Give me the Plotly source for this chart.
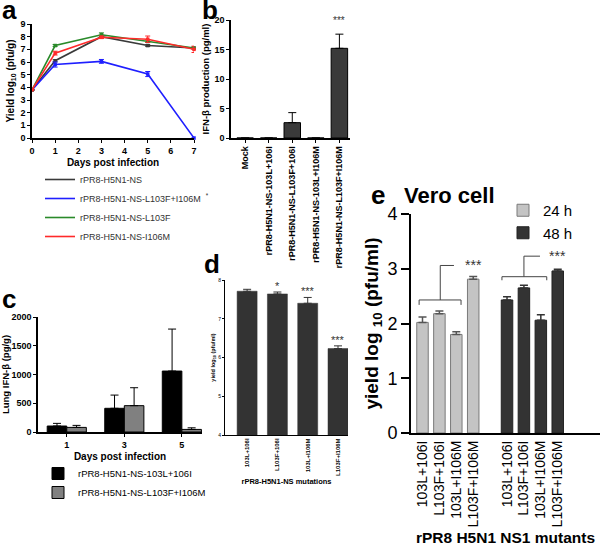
import plotly.graph_objects as go

W, H = 600, 549
def px(x): return x / W
def py(y): return 1 - y / H

FONT = "Liberation Sans, Arial, sans-serif"

# ---------------- Panel a data ----------------
days_a = [0, 1, 3, 5, 7]
a_names = ["rPR8-H5N1-NS", "rPR8-H5N1-NS-L103F+I106M  <sup>*</sup>", "rPR8-H5N1-NS-L103F", "rPR8-H5N1-NS-I106M"]
a_wt = [3.8, 6.1, 8.0, 7.3, 7.1]
a_wt_err = [0, 0.08, 0.1, 0.08, 0.08]
a_dm = [3.8, 5.8, 6.05, 5.05, 0.0]
a_dm_err = [0, 0.2, 0.15, 0.2, 0]
a_l103f = [3.8, 7.3, 8.15, 7.65, 7.1]
a_l103f_err = [0, 0.08, 0.15, 0.1, 0.08]
a_i106m = [3.8, 6.7, 7.95, 7.8, 7.0]
a_i106m_err = [0, 0.15, 0.1, 0.25, 0.25]
a_colors = ["#3a3a3a", "#1f1fff", "#2a8a2a", "#ff2a2a"]

# ---------------- Panel b data ----------------
b_cats = ["Mock", "rPR8-H5N1-NS-103L+106I", "rPR8-H5N1-NS-L103F+106I",
          "rPR8-H5N1-NS-103L+I106M", "rPR8-H5N1-NS-L103F+I106M"]
b_vals = [0, 0, 2.6, 0, 15.2]
b_err = [0, 0, 1.7, 0, 2.4]
b_sig = ["", "", "", "", "***"]

# ---------------- Panel c data ----------------
c_days = [0, 1, 2]
c_day_labels = ["1", "3", "5"]
c_names = ["rPR8-H5N1-NS-103L+106I", "rPR8-H5N1-NS-L103F+I106M"]
c_wt = [104, 412, 1060]
c_wt_err = [46, 230, 730]
c_dm = [80, 458, 45]
c_dm_err = [35, 312, 28]

# ---------------- Panel d data ----------------
d_cats = ["103L+106I", "L103F+106I", "103L+I106M", "L103F+I106M"]
d_vals = [7.71, 7.64, 7.40, 6.23]
d_err = [0.05, 0.05, 0.15, 0.07]
d_sig = ["", "*", "***", "***"]

# ---------------- Panel e data ----------------
e_labels = ["103L+106I", "L103F+106I", "103L+I106M", "L103F+I106M"]
e_pos24 = [0, 1, 2, 3]
e_pos48 = [5, 6, 7, 8]
e_24 = [2.02, 2.18, 1.80, 2.81]
e_24_err = [0.10, 0.05, 0.05, 0.05]
e_48 = [2.43, 2.65, 2.06, 2.96]
e_48_err = [0.06, 0.05, 0.10, 0.03]
# significance brackets: (left, right, base, foot, stem_x, top, top_end, star_x)
e_brackets = [(-0.2, 2.28, 2.43, 2.34, 1.05, 3.06, 1.86, 3.0),
              (4.7, 7.35, 2.855, 2.79, 6.0, 3.23, 6.95, 8.0)]

fig = go.Figure()

# ---- a ----
for name, ys, err, col in zip(a_names, [a_wt, a_dm, a_l103f, a_i106m],
                              [a_wt_err, a_dm_err, a_l103f_err, a_i106m_err], a_colors):
    fig.add_trace(go.Scatter(x=days_a, y=ys, mode="lines+markers", xaxis="x", yaxis="y",
                             line=dict(color=col, width=1.6),
                             marker=dict(symbol="square", size=3.5, color=col),
                             error_y=dict(type="data", array=err, color=col, thickness=1, width=2.5),
                             showlegend=False, cliponaxis=False))
    fig.add_trace(go.Scatter(x=[None], y=[None], mode="lines", name=name, xaxis="x", yaxis="y",
                             line=dict(color=col, width=1.6), legend="legend"))

# ---- b ----
fig.add_trace(go.Bar(x=b_cats, y=b_vals, xaxis="x2", yaxis="y2", width=0.7,
                     marker=dict(color="#3a3a3a", line=dict(color="black", width=1)),
                     error_y=dict(type="data", array=b_err, arrayminus=[0] * 5, symmetric=False,
                                  color="black", thickness=1, width=4),
                     showlegend=False))

# ---- c ----
fig.add_trace(go.Bar(x=c_days, y=c_wt, xaxis="x3", yaxis="y3", width=0.34, offset=-0.34,
                     name=c_names[0], legend="legend2",
                     marker=dict(color="black", line=dict(color="black", width=1)),
                     error_y=dict(type="data", array=c_wt_err, arrayminus=[0] * 3, symmetric=False,
                                  color="black", thickness=1, width=4)))
fig.add_trace(go.Bar(x=c_days, y=c_dm, xaxis="x3", yaxis="y3", width=0.34, offset=0,
                     name=c_names[1], legend="legend2",
                     marker=dict(color="#808080", line=dict(color="black", width=1)),
                     error_y=dict(type="data", array=c_dm_err, arrayminus=[0] * 3, symmetric=False,
                                  color="black", thickness=1, width=4)))

# ---- d ----
fig.add_trace(go.Bar(x=d_cats, y=d_vals, xaxis="x4", yaxis="y4", width=0.66,
                     marker=dict(color="#333333", line=dict(color="#333333", width=0.5)),
                     error_y=dict(type="data", array=d_err, arrayminus=[0] * 4, symmetric=False,
                                  color="#333333", thickness=1, width=4),
                     showlegend=False))

# ---- e ----
fig.add_trace(go.Bar(x=e_pos24, y=e_24, xaxis="x5", yaxis="y5", width=0.68, name="24 h",
                     legend="legend3",
                     marker=dict(color="#c4c4c4", line=dict(color="#7a7a7a", width=1)),
                     error_y=dict(type="data", array=e_24_err, arrayminus=[0] * 4, symmetric=False,
                                  color="#555555", thickness=1.5, width=4)))
fig.add_trace(go.Bar(x=e_pos48, y=e_48, xaxis="x5", yaxis="y5", width=0.68, name="48 h",
                     legend="legend3",
                     marker=dict(color="#333333", line=dict(color="#222222", width=1)),
                     error_y=dict(type="data", array=e_48_err, arrayminus=[0] * 4, symmetric=False,
                                  color="#333333", thickness=1.5, width=4)))

shapes = []
annotations = []
for (l, r, base, foot, sx, top, tend, starx) in e_brackets:
    path = f"M {l},{foot} L {l},{base} L {r},{base} L {r},{foot}"
    shapes.append(dict(type="path", path=path, xref="x5", yref="y5",
                       line=dict(color="#444444", width=1)))
    shapes.append(dict(type="path", path=f"M {sx},{base} L {sx},{top} L {tend},{top}",
                       xref="x5", yref="y5", line=dict(color="#444444", width=1)))
    annotations.append(dict(x=starx, y=top, xref="x5", yref="y5", text="***", showarrow=False,
                            font=dict(family=FONT, size=14, color="#333333"), yanchor="middle"))

# significance stars on b and d
for cat, v, e, s in zip(b_cats, b_vals, b_err, b_sig):
    if s:
        annotations.append(dict(x=cat, y=20, xref="x2", yref="y2", text=s, showarrow=False,
                                font=dict(family=FONT, size=10, color="#333333"), yanchor="middle"))
for cat, v, e, s in zip(d_cats, d_vals, d_err, d_sig):
    if s:
        annotations.append(dict(x=cat, y=v + e, xref="x4", yref="y4", text=s, showarrow=False,
                                font=dict(family=FONT, size=11, color="#333333"), yanchor="bottom",
                                yshift=-2))

# panel letters
for letter, x, y in [("a", 9, 10), ("b", 210, 10), ("c", 9, 299), ("d", 212, 264), ("e", 378, 195)]:
    annotations.append(dict(x=px(x), y=py(y), xref="paper", yref="paper", text=f"<b>{letter}</b>",
                            showarrow=False, font=dict(family=FONT, size=26, color="black"),
                            xanchor="center", yanchor="middle"))

annotations.append(dict(x=px(497), y=py(181), xref="paper", yref="paper", text="<b>Vero cell</b>",
                        showarrow=False, font=dict(family=FONT, size=22, color="black")))

def axstyle(lw=1.5, tl=3, tw=1.2):
    return dict(showline=True, linecolor="black", linewidth=lw, ticks="outside", ticklen=tl,
                tickwidth=tw, tickcolor="black", showgrid=False, zeroline=False, automargin=False)

bold9 = dict(family=FONT, size=9, color="black", weight="bold")

layout = dict(
    width=W, height=H, margin=dict(l=0, r=0, t=0, b=0, autoexpand=False),
    paper_bgcolor="white", plot_bgcolor="white",
    font=dict(family=FONT, color="black"),
    barmode="overlay",
    xaxis=dict(domain=[px(32), px(194)], anchor="y", range=[0, 7], dtick=1, tickfont=bold9,
               title=dict(text="Days post infection", font=dict(family=FONT, size=10, weight="bold"),
                          standoff=4), **axstyle()),
    yaxis=dict(domain=[py(138), py(24)], anchor="x", range=[0, 9], dtick=1, tickfont=bold9,
               title=dict(text="Yield log<sub>10</sub> (pfu/g)", font=dict(family=FONT, size=10, weight="bold"),
                          standoff=4), **axstyle()),
    xaxis2=dict(domain=[px(231), px(350)], anchor="y2", range=[-0.6, 4.45], type="category",
                tickangle=-90, tickfont=dict(family=FONT, size=9, color="black", weight="bold"),
                **axstyle()),
    yaxis2=dict(domain=[py(138), py(20)], anchor="x2", range=[0, 20], dtick=5, tickfont=bold9,
                title=dict(text="IFN-β production (pg/ml)", font=dict(family=FONT, size=9.5, weight="bold"),
                           standoff=3), **axstyle()),
    xaxis3=dict(domain=[px(38), px(202)], anchor="y3", range=[-0.5, 2.35], tickvals=c_days,
                ticktext=c_day_labels, tickfont=bold9,
                title=dict(text="Days post infection", font=dict(family=FONT, size=10, weight="bold"),
                           standoff=4), **axstyle()),
    yaxis3=dict(domain=[py(432), py(317)], anchor="x3", range=[0, 2000], dtick=500, tickfont=bold9,
                title=dict(text="Lung IFN-β (pg/g)", font=dict(family=FONT, size=9.5, weight="bold"),
                           standoff=3), **axstyle()),
    xaxis4=dict(domain=[px(225), px(348)], anchor="y4", range=[-0.73, 3.33], type="category",
                tickangle=-90, tickfont=dict(family=FONT, size=6, color="black", weight="bold"),
                title=dict(text="rPR8-H5N1-NS mutations", font=dict(family=FONT, size=7.5, weight="bold"),
                           standoff=3),
                showline=True, linecolor="black", linewidth=1, ticks="", showgrid=False, zeroline=False,
                automargin=False),
    yaxis4=dict(domain=[py(435), py(280)], anchor="x4", range=[4, 8], dtick=1,
                tickfont=dict(family=FONT, size=5, color="black"),
                title=dict(text="yield log<sub>10</sub> (pfu/ml)", font=dict(family=FONT, size=5.5, weight="bold"),
                           standoff=2), **axstyle(lw=1, tl=2, tw=0.8)),
    xaxis5=dict(domain=[px(411), px(600)], anchor="y5", range=[-0.68, 10.5],
                tickvals=e_pos24 + e_pos48, ticktext=e_labels + e_labels, tickangle=-90,
                tickfont=dict(family=FONT, size=14, color="black"),
                title=dict(text="rPR8 H5N1 NS1 mutants", font=dict(family=FONT, size=15.5, weight="bold"),
                           standoff=6),
                showline=True, linecolor="black", linewidth=2, ticks="", showgrid=False, zeroline=False,
                automargin=False),
    yaxis5=dict(domain=[py(433), py(214)], anchor="x5", range=[0, 4], dtick=1,
                tickfont=dict(family=FONT, size=18, color="black"),
                title=dict(text="yield log <sub>10</sub> (pfu/ml)", font=dict(family=FONT, size=19, weight="bold"),
                           standoff=4), **axstyle(lw=2, tl=8, tw=2)),
    legend=dict(x=px(40), y=py(165), xanchor="left", yanchor="top", bgcolor="rgba(0,0,0,0)",
                font=dict(family=FONT, size=9, color="#333333"), tracegroupgap=0, itemwidth=30),
    legend2=dict(x=px(38), y=py(459), xanchor="left", yanchor="top", bgcolor="rgba(0,0,0,0)",
                 font=dict(family=FONT, size=9.5, color="black"), tracegroupgap=0),
    legend3=dict(x=px(503), y=py(194), xanchor="left", yanchor="top", bgcolor="rgba(0,0,0,0)",
                 font=dict(family=FONT, size=15, color="black"), tracegroupgap=0),
    shapes=shapes, annotations=annotations,
)
fig.update_layout(**layout)
fig.write_html("out.html", config={"displayModeBar": False},
               post_script="document.body.style.margin='0px';document.body.style.overflow='hidden';")
